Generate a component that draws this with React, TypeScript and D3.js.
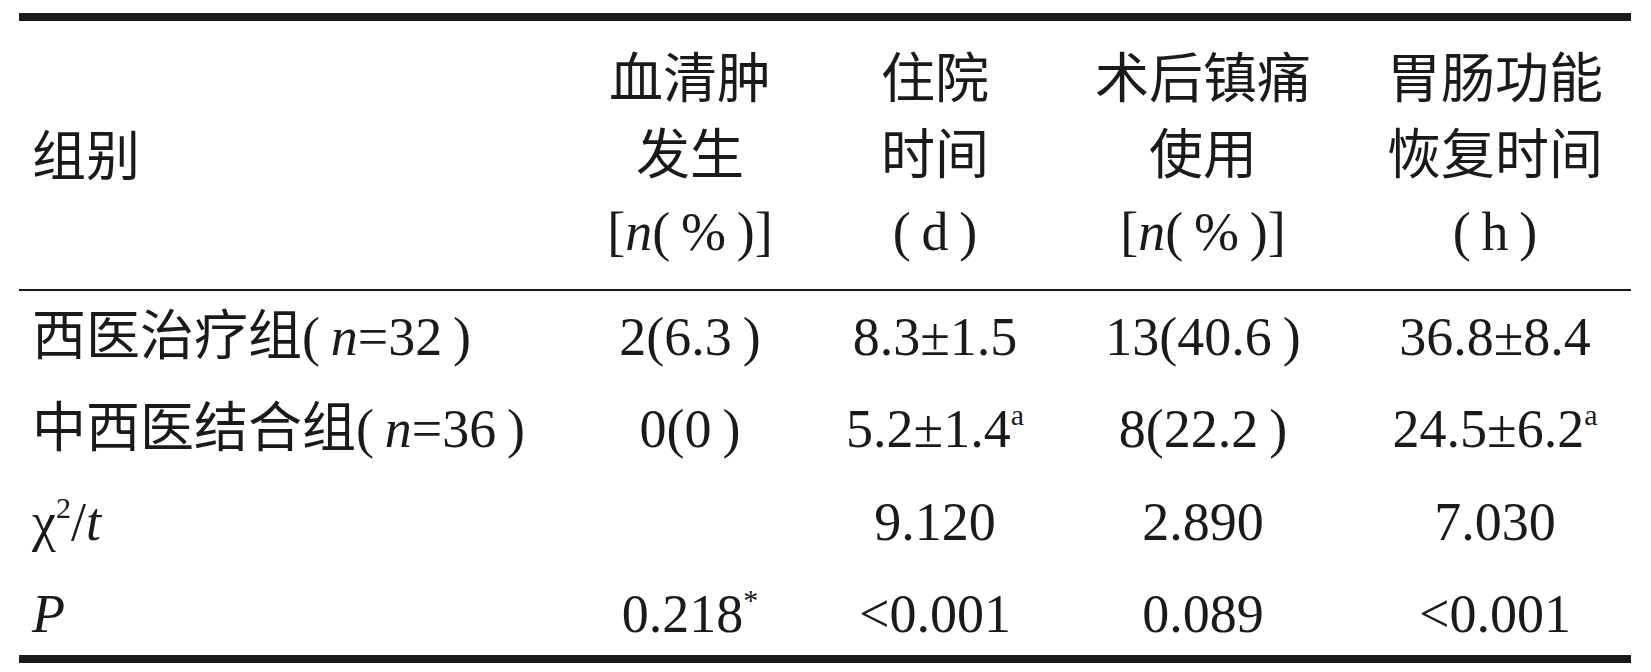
import { useMemo } from 'react';
import * as d3 from 'd3';

// Table content. Markup: _x_ = italic, ^c = superscript of one char
const headerLabel = '组别';
const columnHeaders = [
  ['血清肿', '发生', '[_n_(\u2009%\u2009)]'],
  ['住院', '时间', '(\u2009d\u2009)'],
  ['术后镇痛', '使用', '[_n_(\u2009%\u2009)]'],
  ['胃肠功能', '恢复时间', '(\u2009h\u2009)'],
];
const rowLabels = ['西医治疗组(\u2009_n_=32\u2009)', '中西医结合组(\u2009_n_=36\u2009)', 'χ^2/_t_', '_P_'];
const hematoma = ['2(6.3\u2009)', '0(0\u2009)', '', '0.218^*'];
const stayDays = ['8.3±1.5', '5.2±1.4^a', '9.120', '<0.001'];
const analgesia = ['13(40.6\u2009)', '8(22.2\u2009)', '2.890', '0.089'];
const gutRecovery = ['36.8±8.4', '24.5±6.2^a', '7.030', '<0.001'];

const columnKeys = ['hematoma', 'stay', 'analgesia', 'gut'];
const columnValues = [hematoma, stayDays, analgesia, gutRecovery];

const W = 1651;
const H = 672;
const FONT = '"Liberation Serif", "Noto Sans CJK SC", serif';
const INK = '#1a1a1a';

type Seg = { t: string; i: boolean; sup: boolean };

function parse(s: string): Seg[] {
  const out: Seg[] = [];
  let italic = false;
  let buf = '';
  const flush = () => {
    if (buf) out.push({ t: buf, i: italic, sup: false });
    buf = '';
  };
  for (let k = 0; k < s.length; k++) {
    const c = s[k];
    if (c === '_') {
      flush();
      italic = !italic;
    } else if (c === '^') {
      flush();
      out.push({ t: s[k + 1], i: false, sup: true });
      k++;
    } else buf += c;
  }
  flush();
  return out;
}

function Cell({ x, y, text, anchor = 'middle' }: { x: number; y: number; text: string; anchor?: string }) {
  const segs = parse(text);
  let raised = false;
  return (
    <text x={x} y={y} textAnchor={anchor} fontFamily={FONT} fontSize={54} fill={INK}>
      {segs.map((s, k) => {
        let dy = 0;
        if (s.sup && !raised) {
          dy = -22;
          raised = true;
        } else if (!s.sup && raised) {
          dy = 22;
          raised = false;
        }
        return (
          <tspan key={k} dy={dy || undefined} fontStyle={s.i ? 'italic' : undefined} fontSize={s.sup ? 30 : undefined}>
            {s.t}
          </tspan>
        );
      })}
    </text>
  );
}

export default function App() {
  const x = useMemo(() => d3.scaleOrdinal<string, number>().domain(columnKeys).range([690, 935, 1203, 1495]), []);
  const headY = useMemo(() => d3.scaleLinear().domain([0, 2]).range([98, 250]), []);
  const rowY = useMemo(() => d3.scaleLinear().domain([0, rowLabels.length - 1]).range([355, 632]), []);
  const left = 19;
  const right = 1631;
  const textLeft = 32;

  return (
    <svg width={W} height={H} style={{ position: 'absolute', left: 0, top: 0, background: '#fff' }}>
      <rect width={W} height={H} fill="#fff" />
      {/* rules */}
      <rect x={left} y={13} width={right - left} height={8} fill={INK} />
      <rect x={left} y={289} width={right - left} height={2} fill={INK} />
      <rect x={left} y={655} width={right - left} height={8} fill={INK} />

      {/* header */}
      <Cell x={textLeft} y={headY(1) + 2} text={headerLabel} anchor="start" />
      {columnHeaders.map((lines, c) =>
        lines.map((ln, j) => <Cell key={`h${c}-${j}`} x={x(columnKeys[c])} y={headY(j)} text={ln} />)
      )}

      {/* body */}
      {rowLabels.map((lab, r) => (
        <Cell key={`r${r}`} x={textLeft} y={rowY(r)} text={lab} anchor="start" />
      ))}
      {columnValues.map((vals, c) =>
        vals.map((v, r) => (v ? <Cell key={`v${c}-${r}`} x={x(columnKeys[c])} y={rowY(r)} text={v} /> : null))
      )}
    </svg>
  );
}
